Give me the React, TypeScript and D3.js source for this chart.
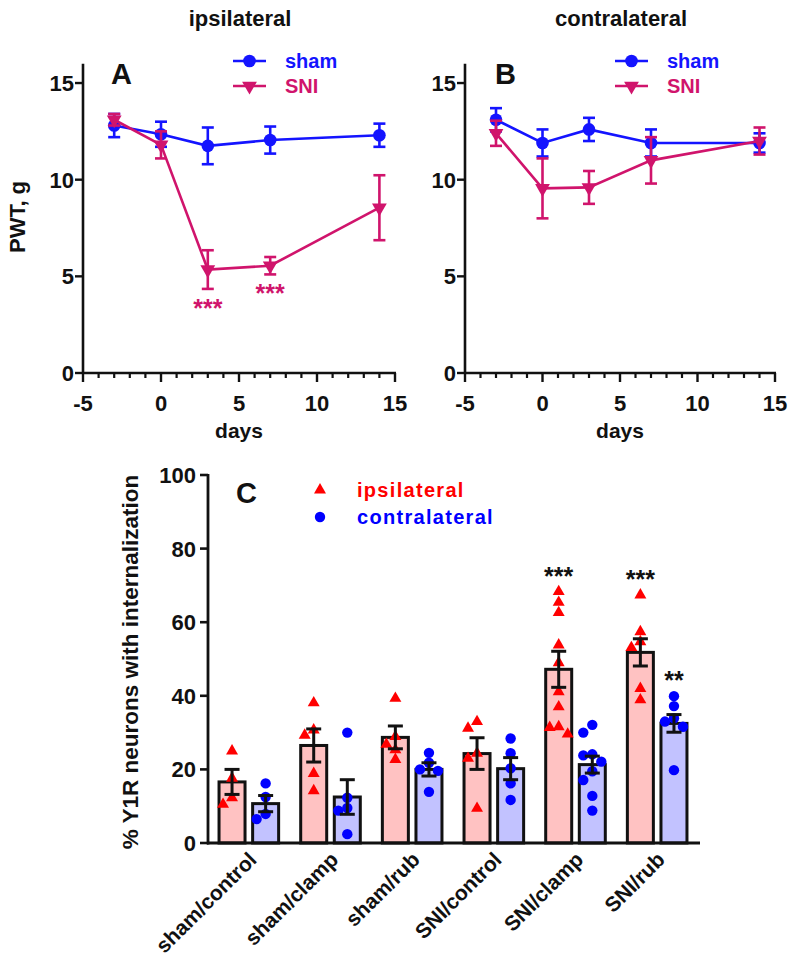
import React from 'react';
import * as d3 from 'd3';

const FONT = "'Liberation Sans', Arial, Helvetica, sans-serif";
const BLUE = '#1414ff';
const MAG = '#d0146c';
const RED = '#ff0000';
const CBLUE = '#0000ff';
const PINK = '#ffc2c2';
const LBLUE = '#c2c2ff';

// Panels A/B: days and mean ± SEM of paw withdrawal threshold (g)
const days = [-3, 0, 3, 7, 14];
const ipsiShamMean = [12.8, 12.35, 11.75, 12.05, 12.3];
const ipsiShamSem = [0.6, 0.65, 0.95, 0.7, 0.6];
const ipsiSniMean = [13.1, 11.8, 5.35, 5.55, 8.55];
const ipsiSniSem = [0.3, 0.7, 1.0, 0.45, 1.68];
const contraShamMean = [13.1, 11.9, 12.6, 11.9, 11.9];
const contraShamSem = [0.6, 0.7, 0.6, 0.7, 0.5];
const contraSniMean = [12.4, 9.55, 9.6, 11.0, 12.0];
const contraSniSem = [0.65, 1.55, 0.85, 1.2, 0.7];
const ipsiStarDays = [3, 7];

const xTicksMajor = [-5, 0, 5, 10, 15];
const xTicksMinor = [-4, -3, -2, -1, 1, 2, 3, 4, 6, 7, 8, 9, 11, 12, 13, 14];
const yTicksAB = [0, 5, 10, 15];

// Panel C
const groups = ['sham/control', 'sham/clamp', 'sham/rub', 'SNI/control', 'SNI/clamp', 'SNI/rub'];
const ipsiMean = [16.6, 26.5, 28.7, 24.3, 47.2, 51.8];
const ipsiSem = [3.4, 4.5, 3.1, 4.3, 4.9, 3.7];
const contraMean = [10.7, 12.5, 20.0, 20.2, 21.3, 32.5];
const contraSem = [2.2, 4.7, 1.8, 3.0, 2.3, 2.4];
const ipsiPoints = [
  [25, 17.6, 12.3, 10.5],
  [38.1, 30.7, 29.3, 18.9, 14.2],
  [39.3, 28.9, 26.8, 25.3, 22.7],
  [33, 31.2, 24.4, 23, 9.4],
  [68.3, 65.4, 62.6, 53.8, 49, 41.1, 37, 31.6, 31.4, 29.6],
  [67.4, 57.4, 54.7, 53.1, 42, 38.9],
];
const contraPoints = [
  [16.2, 12.5, 7.9, 6.5],
  [30, 12.3, 9.5, 8.8, 2.4],
  [24.5, 21.8, 20, 19.6, 13.9],
  [28.4, 24.4, 20.3, 16.2, 11.7],
  [32.1, 30, 24.1, 23.8, 22.1, 19.5, 17.1, 12.8, 8.8],
  [39.9, 37.2, 33.9, 33, 31.6, 19.8],
];
const yTicksC = [0, 20, 40, 60, 80, 100];
const cStars = [
  { group: 4, side: 'ipsi', text: '***' },
  { group: 5, side: 'ipsi', text: '***' },
  { group: 5, side: 'contra', text: '**' },
];

const circlePath = d3.symbol(d3.symbolCircle, 125)() as string;
const triDownPath = d3.symbol(d3.symbolTriangle, 95)() as string;
const smallTri = d3.symbol(d3.symbolTriangle, 62)() as string;
const smallCircle = d3.symbol(d3.symbolCircle, 85)() as string;

function LinePanel(props: any) {
  const { range, title, titleX, letter, letterX, legendX, sham, shamE, sni, sniE, stars } = props;
  const x = d3.scaleLinear().domain([-5, 15]).range(range);
  const y = d3.scaleLinear().domain([0, 16]).range([373, 63.7]);
  const line = d3.line<number>().x((_, i) => x(days[i])).y((d) => y(d));
  const series = [
    { mean: sham, err: shamE, color: BLUE, marker: circlePath, rot: 0 },
    { mean: sni, err: sniE, color: MAG, marker: triDownPath, rot: 180 },
  ];
  const x0 = range[0];
  return (
    <g>
      <text x={titleX} y={26} textAnchor="middle" fontSize={22} fontWeight="bold" fill="#111">{title}</text>
      {/* axes */}
      <line x1={x0} x2={x0} y1={y(0) + 1} y2={y(16)} stroke="#111" strokeWidth={2.6} />
      <line x1={x0 - 1} x2={range[1] + 1} y1={y(0)} y2={y(0)} stroke="#111" strokeWidth={2.6} />
      {yTicksAB.map((t) => (
        <g key={'y' + t}>
          <line x1={x0 - 8} x2={x0} y1={y(t)} y2={y(t)} stroke="#111" strokeWidth={2.4} />
          <text x={x0 - 9} y={y(t)} dy="0.36em" textAnchor="end" fontSize={22} fontWeight="bold" fill="#111">{t}</text>
        </g>
      ))}
      {xTicksMajor.map((t) => (
        <g key={'x' + t}>
          <line x1={x(t)} x2={x(t)} y1={y(0)} y2={y(0) + 9} stroke="#111" strokeWidth={2.4} />
          <text x={x(t)} y={411} textAnchor="middle" fontSize={22} fontWeight="bold" fill="#111">{t}</text>
        </g>
      ))}
      {xTicksMinor.map((t) => (
        <line key={'m' + t} x1={x(t)} x2={x(t)} y1={y(0)} y2={y(0) + 5} stroke="#111" strokeWidth={2.2} />
      ))}
      <text x={(range[0] + range[1]) / 2} y={437.5} textAnchor="middle" fontSize={21} fontWeight="bold" fill="#111">days</text>
      <text x={letterX} y={84} fontSize={29} fontWeight="bold" fill="#111">{letter}</text>
      {/* series */}
      {series.map((s, si) => (
        <g key={si}>
          <path d={line(s.mean) as string} fill="none" stroke={s.color} strokeWidth={2.6} />
          {s.mean.map((m: number, i: number) => {
            const cx = x(days[i]);
            const top = y(m + s.err[i]);
            const bot = y(m - s.err[i]);
            return (
              <g key={i} stroke={s.color} strokeWidth={2.6}>
                <line x1={cx} x2={cx} y1={top} y2={bot} />
                <line x1={cx - 6} x2={cx + 6} y1={top} y2={top} />
                <line x1={cx - 6} x2={cx + 6} y1={bot} y2={bot} />
              </g>
            );
          })}
          {s.mean.map((m: number, i: number) => (
            <path key={'k' + i} d={s.marker} transform={`translate(${x(days[i])},${y(m)}) rotate(${s.rot})`} fill={s.color} />
          ))}
        </g>
      ))}
      {stars.map((d: number) => {
        const i = days.indexOf(d);
        return (
          <text key={'s' + d} x={x(d)} y={y(sni[i] - sniE[i]) + 15 + 13} textAnchor="middle" fontSize={25} fontWeight="bold" fill={MAG}>***</text>
        );
      })}
      {/* legend */}
      {series.map((s, si) => {
        const ly = 61 + si * 25;
        return (
          <g key={'l' + si}>
            <line x1={legendX} x2={legendX + 33} y1={ly} y2={ly} stroke={s.color} strokeWidth={2.6} />
            <path d={s.marker} transform={`translate(${legendX + 16.5},${ly}) rotate(${s.rot})`} fill={s.color} />
            <text x={legendX + 52} y={ly + 7} fontSize={20} fontWeight="bold" fill={s.color}>{si === 0 ? 'sham' : 'SNI'}</text>
          </g>
        );
      })}
    </g>
  );
}

function dodge(values: number[], y: (v: number) => number, step = 9, minDist = 9) {
  const out: number[] = new Array(values.length).fill(0);
  const placed: { x: number; y: number }[] = [];
  const order = values.map((v, i) => ({ v, i })).sort((a, b) => b.v - a.v);
  for (const { v, i } of order) {
    const py = y(v);
    const offs = [0];
    for (let k = 1; k < 6; k++) offs.push(-k * step, k * step);
    for (const o of offs) {
      if (placed.every((p) => Math.hypot(p.x - o, p.y - py) >= minDist)) {
        placed.push({ x: o, y: py });
        out[i] = o;
        break;
      }
    }
  }
  return out;
}

function BarPanel() {
  const xc = d3.scaleBand<string>().domain(groups).range([208, 698]);
  const yc = d3.scaleLinear().domain([0, 100]).range([843, 475]);
  const bw = xc.bandwidth();
  const off = 16.8;
  const barW = 26;
  const sides = [
    { key: 'ipsi', mean: ipsiMean, sem: ipsiSem, pts: ipsiPoints, fill: PINK, color: RED, marker: smallTri, dx: -off },
    { key: 'contra', mean: contraMean, sem: contraSem, pts: contraPoints, fill: LBLUE, color: CBLUE, marker: smallCircle, dx: off },
  ];
  return (
    <g>
      {groups.map((g, gi) => {
        const c = (xc(g) as number) + bw / 2;
        return (
          <g key={g}>
            {sides.map((s) => {
              const cx = c + s.dx;
              return (
                <rect key={s.key} x={cx - barW / 2} y={yc(s.mean[gi])} width={barW} height={yc(0) - yc(s.mean[gi])} fill={s.fill} stroke="#111" strokeWidth={3} />
              );
            })}
          </g>
        );
      })}
      {/* axes */}
      <line x1={208} x2={208} y1={yc(0) + 1.5} y2={yc(100) - 1} stroke="#111" strokeWidth={2.8} />
      <line x1={207} x2={700} y1={yc(0)} y2={yc(0)} stroke="#111" strokeWidth={2.8} />
      {yTicksC.map((t) => (
        <g key={'yc' + t}>
          <line x1={200} x2={208} y1={yc(t)} y2={yc(t)} stroke="#111" strokeWidth={2.6} />
          <text x={196} y={yc(t)} dy="0.36em" textAnchor="end" fontSize={22} fontWeight="bold" fill="#111">{t}</text>
        </g>
      ))}
      {groups.map((g, gi) => {
        const c = (xc(g) as number) + bw / 2;
        return (
          <g key={'p' + g}>
            {sides.map((s) => {
              const cx = c + s.dx;
              const jit = dodge(s.pts[gi], yc);
              return (
                <g key={s.key}>
                  {s.pts[gi].map((v: number, k: number) => (
                    <path key={k} d={s.marker} transform={`translate(${cx + jit[k]},${yc(v)})`} fill={s.color} />
                  ))}
                </g>
              );
            })}
            {sides.map((s) => {
              const cx = c + s.dx;
              const top = yc(s.mean[gi] + s.sem[gi]);
              const bot = yc(s.mean[gi] - s.sem[gi]);
              return (
                <g key={'e' + s.key} stroke="#111" strokeWidth={3}>
                  <line x1={cx} x2={cx} y1={top} y2={bot} />
                  <line x1={cx - 7.5} x2={cx + 7.5} y1={top} y2={top} />
                  <line x1={cx - 7.5} x2={cx + 7.5} y1={bot} y2={bot} />
                </g>
              );
            })}
          </g>
        );
      })}
      {cStars.map((st, i) => {
        const s = st.side === 'ipsi' ? sides[0] : sides[1];
        const c = (xc(groups[st.group]) as number) + bw / 2 + s.dx;
        const maxV = d3.max(s.pts[st.group]) as number;
        return (
          <text key={'cs' + i} x={c} y={yc(maxV) - 20 + 13} textAnchor="middle" fontSize={25} fontWeight="bold" fill="#111">{st.text}</text>
        );
      })}
      {groups.map((g) => {
        const c = (xc(g) as number) + bw / 2;
        return (
          <text key={'xl' + g} transform={`translate(${c + 9},${861}) rotate(-45)`} textAnchor="end" fontSize={21} fontWeight="bold" fill="#111">{g}</text>
        );
      })}
      <text transform="translate(130,662) rotate(-90)" textAnchor="middle" dy="0.36em" fontSize={22.5} fontWeight="bold" fill="#111">% Y1R neurons with internalization</text>
      <text x={236} y={503} fontSize={29} fontWeight="bold" fill="#111">C</text>
      {/* legend */}
      <path d={smallTri} transform="translate(320,490)" fill={RED} />
      <text x={357} y={497} fontSize={20} fontWeight="bold" letterSpacing={1.3} fill={RED}>ipsilateral</text>
      <path d={smallCircle} transform="translate(320,517)" fill={CBLUE} />
      <text x={357} y={524} fontSize={20} fontWeight="bold" letterSpacing={1.3} fill={CBLUE}>contralateral</text>
    </g>
  );
}

export default function App() {
  return (
    <svg width={800} height={977} viewBox="0 0 800 977" style={{ position: 'absolute', left: 0, top: 0, background: '#fff' }} fontFamily={FONT}>
      <rect x={0} y={0} width={800} height={977} fill="#fff" />
      <LinePanel
        range={[83, 395]}
        title="ipsilateral"
        titleX={240}
        letter="A"
        letterX={111}
        legendX={233}
        sham={ipsiShamMean}
        shamE={ipsiShamSem}
        sni={ipsiSniMean}
        sniE={ipsiSniSem}
        stars={ipsiStarDays}
      />
      <LinePanel
        range={[465, 775]}
        title="contralateral"
        titleX={621}
        letter="B"
        letterX={495}
        legendX={615}
        sham={contraShamMean}
        shamE={contraShamSem}
        sni={contraSniMean}
        sniE={contraSniSem}
        stars={[]}
      />
      <text x={17} y={217} transform="rotate(-90,17,217)" textAnchor="middle" dy="0.36em" fontSize={22} fontWeight="bold" fill="#111">PWT, g</text>
      <BarPanel />
    </svg>
  );
}
